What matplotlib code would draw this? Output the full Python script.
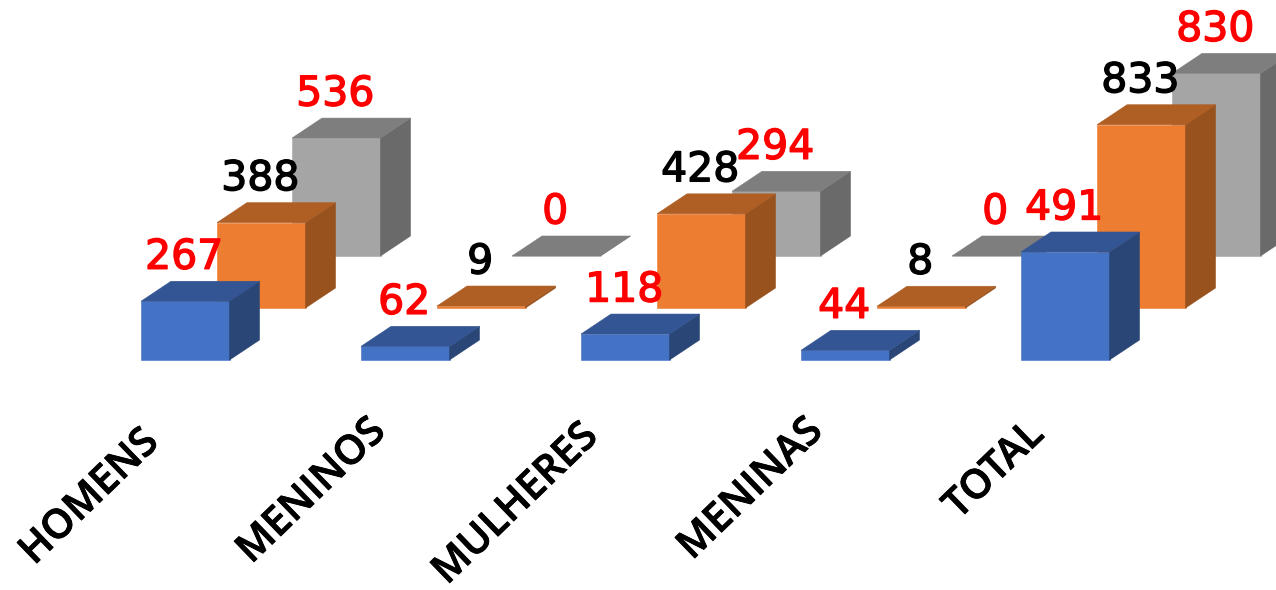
import numpy as np
import matplotlib
matplotlib.use('Agg')
from matplotlib import pyplot as plt
from matplotlib.patches import Polygon
import matplotlib.patheffects as pe

categories = ['HOMENS', 'MENINOS', 'MULHERES', 'MENINAS', 'TOTAL']
blue_values = [267, 62, 118, 44, 491]
orange_values = [388, 9, 428, 8, 833]
gray_values = [536, 0, 294, 0, 830]

# pixels per category / per unit
px_x = 220.0
px_y = 0.22
bar_w = 88.5 / px_x
depth_x = 30 / px_x
depth_y = 20 / px_y

# series drawn back to front: values, x shift, floor shift, front, top, side, label colour
series = [
    (gray_values, 151 / px_x, 104 / px_y, '#A5A5A5', '#7E7E7E', '#6A6A6A', '#FF0000'),
    (orange_values, 76 / px_x, 52 / px_y, '#ED7D31', '#B05F24', '#97521E', '#000000'),
    (blue_values, 0.0, 0.0, '#4472C4', '#335593', '#2A4676', '#FF0000'),
]

label_x = [90, 312, 516, 751, 995]
label_y = [498, 492, 505, 490, 471]

fig = plt.figure(figsize=(12.76, 5.90), dpi=100)
ax = fig.add_axes([0, 0, 1, 1])
ax.set_xlim(-141 / px_x, (1276 - 141) / px_x)
ax.set_ylim((360 - 590) / px_y, 360 / px_y)
ax.set_axis_off()

z = 1
for values, shift_x, shift_y, front, top, side, text_color in series:
    for i, v in enumerate(values):
        x0 = i + shift_x
        x1 = x0 + bar_w
        y0 = shift_y
        y1 = shift_y + v
        ax.bar(x0, v, width=bar_w, bottom=y0, align='edge', color=front, edgecolor=front, linewidth=0.4, zorder=z)
        ax.add_patch(Polygon([(x1, y0), (x1 + depth_x, y0 + depth_y), (x1 + depth_x, y1 + depth_y), (x1, y1)],
                             facecolor=side, edgecolor=side, linewidth=0.4, zorder=z))
        ax.add_patch(Polygon([(x0, y1), (x0 + depth_x, y1 + depth_y), (x1 + depth_x, y1 + depth_y), (x1, y1)],
                             facecolor=top, edgecolor=top, linewidth=0.4, zorder=z))
        txt = ax.text(x0 + bar_w / 2 - 1 / px_x, y1 + 43.5 / px_y, str(v), color=text_color, fontsize=29.5,
                      family='DejaVu Sans', ha='center', va='center', zorder=20)
        txt.set_path_effects([pe.withStroke(linewidth=1.0, foreground=text_color)])
    z += 1

for name, lx, ly in zip(categories, label_x, label_y):
    txt = ax.text((lx - 141) / px_x, (360 - ly) / px_y, name, rotation=44, rotation_mode='anchor', fontsize=29,
                  family='Open Sans', weight='semibold', ha='center', va='center', color='black', zorder=20)
    txt.set_path_effects([pe.withStroke(linewidth=0.6, foreground='black')])

fig.savefig('out.png', dpi=100)
